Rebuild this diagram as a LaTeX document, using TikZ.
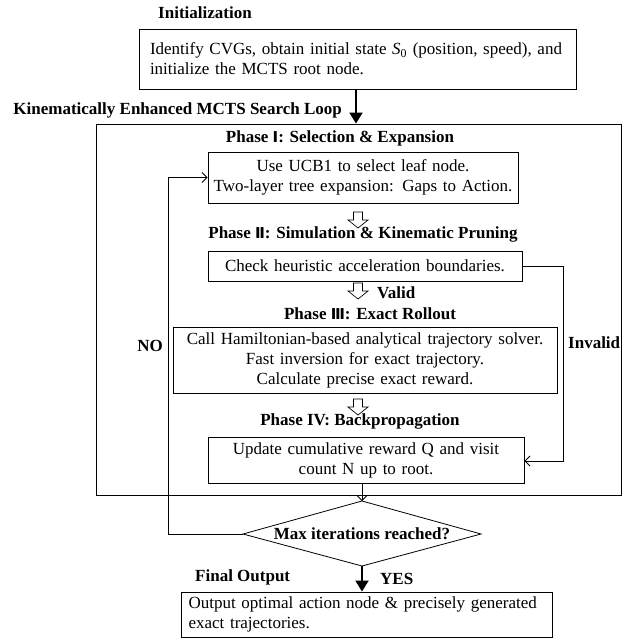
\documentclass[tikz,border=0pt]{standalone}
\usepackage{fontspec}
\setmainfont{Liberation Serif}
\newfontfamily\rnum{DejaVu Sans}
\usetikzlibrary{arrows.meta,calc}
\begin{document}
\begin{tikzpicture}[x=1pt,y=-1pt,
  every node/.style={font=\fontsize{17}{20}\selectfont, inner sep=0pt},
  box/.style={draw, line width=0.9pt},
  lbl/.style={font=\fontsize{17}{20}\selectfont\bfseries},
  thinarrow/.style={line width=0.8pt, -{Straight Barb[length=5pt,width=10pt]}},
  bigarrow/.style={line width=2pt, -{Triangle[length=11pt,width=13pt]}},
  plainline/.style={line width=0.8pt},
  hollowarrow/.pic={\draw[line width=0.7pt, fill=white] (-4.5,0) -- (-4.5,8) -- (-10,8) -- (0,16) -- (10,8) -- (4.5,8) -- (4.5,0) -- cycle;}
]
\useasboundingbox (0,0) rectangle (633,640);

% labels
\node[lbl] (tInit) at (205,13) {Initialization};
\node[lbl, anchor=east] (tLoop) at (342,110) {Kinematically Enhanced MCTS Search Loop};

% init box
\node[box, minimum width=437pt, minimum height=60pt, text width=415pt, align=left] (init) at (357.5,59)
  { Identify CVGs, obtain initial state \textit{S}\textsubscript{0} (position, speed), and\\initialize the MCTS root node.};

% loop box
\node[box, minimum width=525pt, minimum height=371pt] (loop) at (358.5,309.5) {};

% phase I
\node[lbl] (tP1) at (340,138) {Phase {\rnum\fontsize{15}{20}\selectfont Ⅰ}: Selection \& Expansion};
\node[box, minimum width=310pt, minimum height=51pt, text width=310pt, align=center] (p1) at (363,177.5)
  {Use UCB1 to select leaf node.\\Two-layer tree expansion: Gaps to Action.};
\pic at (358,212) {hollowarrow};

% phase II
\node[lbl] (tP2) at (363,234) {Phase {\rnum\fontsize{15}{20}\selectfont Ⅱ}: Simulation \& Kinematic Pruning};
\node[box, minimum width=314pt, minimum height=30pt, text width=314pt, align=center] (p2) at (365,266)
  {Check heuristic acceleration boundaries.};
\pic at (358,283) {hollowarrow};
\node[lbl, anchor=west] (tValid) at (377,293) {Valid};

% phase III
\node[lbl] (tP3) at (370,314) {Phase {\rnum\fontsize{15}{20}\selectfont Ⅲ}: Exact Rollout};
\node[box, minimum width=384pt, minimum height=66pt, text width=384pt, align=center] (p3) at (365,360)
  {Call Hamiltonian-based analytical trajectory solver.\\Fast inversion for exact trajectory.\\Calculate precise exact reward.};
\pic at (358,399) {hollowarrow};

% phase IV
\node[lbl] (tP4) at (360,421) {Phase IV: Backpropagation};
\node[box, minimum width=316pt, minimum height=46pt, text width=316pt, align=center] (p4) at (366,460)
  {Update cumulative reward Q and visit\\count N up to root.};

% decision
\coordinate (dl) at (243,534);
\coordinate (dt) at (362,501);
\coordinate (dr) at (481,534);
\coordinate (db) at (362,566);
\draw[plainline] (dl) -- (dt) -- (dr) -- (db) -- cycle;
\node[lbl] (dia) at (362,534) {Max iterations reached?};

% final
\node[lbl, anchor=west] (tFinal) at (195,577) {Final Output};
\node[lbl, anchor=west] (tYes) at (380,579) {YES};
\node[box, minimum width=371pt, minimum height=45pt, text width=356pt, align=left] (fin) at (366.5,614.5)
  {Output optimal action node \& precisely generated\\exact trajectories.};

% side labels
\node[lbl, anchor=west] (tInvalid) at (568,343) {Invalid};
\node[lbl, anchor=east] (tNo) at (163,346) {NO};

% connectors
\coordinate (ax) at (356,0);
\draw[bigarrow] (init.south -| ax) -- (loop.north -| ax);
\coordinate (ix) at (563,461);
\draw[thinarrow] (p2.east) -| (ix) -- (p4.east |- ix);
\coordinate (nx) at (168,0);
\draw[thinarrow] (dl) -- (dl -| nx) -- (nx |- p1.west) -- (p1.west);
\draw[thinarrow] (p4.south -| dt) -- (dt);
\draw[bigarrow] (db) -- (fin.north -| db);
\end{tikzpicture}
\end{document}
